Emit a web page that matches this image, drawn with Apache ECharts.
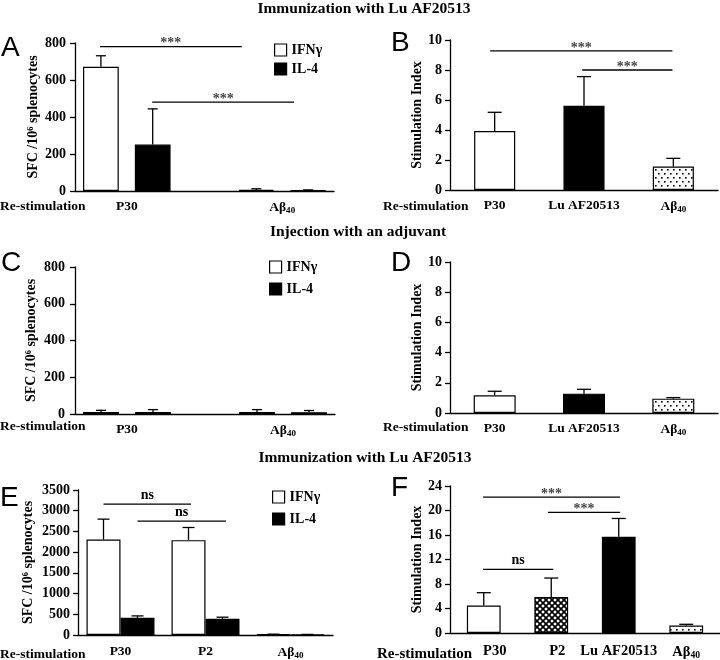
<!DOCTYPE html>
<html><head><meta charset="utf-8">
<script src="https://cdn.jsdelivr.net/npm/echarts@6/dist/echarts.min.js"></script>
<style>html,body{margin:0;padding:0;background:#fff}#c{width:720px;height:660px}</style>
</head><body><div id="c"></div>
<script>
// ================= DATA =================
const sectionTitles = ['Immunization with Lu AF20513', 'Injection with an adjuvant', 'Immunization with Lu AF20513'];
const panelLetters = ['A', 'B', 'C', 'D', 'E', 'F'];
const cytokines = ['IFNγ', 'IL-4'];
const sfcName = 'SFC /10⁶ splenocytes';
const siName = 'Stimulation Index';
const restimName = 'Re-stimulation';

// Panel A (SFC / 10^6 splenocytes)
const A_groups = ['P30', 'Aβ40'];
const A_ifn = [672, 6];
const A_ifnErr = [59, 6];
const A_il4 = [251, 3];
const A_il4Err = [193, 3];
const A_sig = [[0.48, 3.22, 780, '***'], [1.49, 4.23, 480, '***']];

// Panel B (Stimulation Index)
const B_cats = ['P30', 'Lu AF20513', 'Aβ40'];
const B_vals = [3.93, 5.62, 1.56];
const B_err = [1.25, 1.94, 0.55];
const B_sig = [[0.45, 2.49, 9.27, '***'], [1.48, 2.49, 8.0, '***']];

// Panel C
const C_groups = ['P30', 'Aβ40'];
const C_ifn = [11, 11];
const C_ifnErr = [9, 13];
const C_il4 = [11, 10];
const C_il4Err = [13, 9];

// Panel D
const D_cats = ['P30', 'Lu AF20513', 'Aβ40'];
const D_vals = [1.17, 1.28, 0.95];
const D_err = [0.27, 0.29, 0.07];

// Panel E
const E_cats = ['P30', 'P2', 'Aβ40'];
const E_ifn = [2305, 2290, 15];
const E_ifnErr = [492, 305, 5];
const E_il4 = [414, 391, 10];
const E_il4Err = [47, 39, 4];
const E_sig = [[0.30, 1.33, 3158, 'ns'], [0.70, 1.74, 2750, 'ns']];

// Panel F
const F_cats = ['P30', 'P2', 'Lu AF20513', 'Aβ40'];
const F_vals = [4.49, 5.87, 15.7, 1.22];
const F_err = [2.09, 3.1, 3.0, 0.2];
const F_sig = [[0.49, 1.53, 10.4, 'ns'], [0.49, 2.52, 22.2, '***'], [1.45, 2.52, 19.7, '***']];

// y scales
const sfcScale = { min: 0, max: 800, interval: 200 };
const siScale = { min: 0, max: 10, interval: 2 };
const sfcScaleE = { min: 0, max: 3500, interval: 500 };
const siScaleF = { min: 0, max: 24, interval: 4 };

// ================= STYLE =================
const SERIF = '"Liberation Serif", "Times New Roman", serif';
const SANS = '"Liberation Sans", Arial, sans-serif';
const B_fill = ['white', 'black', 'dots'];
const D_fill = ['white', 'black', 'dots'];
const F_fill = ['white', 'cross', 'black', 'dots'];

function makePattern(kind) {
  const c = document.createElement('canvas');
  const g = c.getContext('2d');
  if (kind === 'dots') {
    c.width = 6; c.height = 8;
    g.fillStyle = '#fff'; g.fillRect(0, 0, 6, 8);
    g.fillStyle = '#000';
    g.fillRect(1, 1, 1.6, 1.6);
    g.fillRect(4, 5, 1.6, 1.6);
  } else {
    c.width = 6; c.height = 6;
    g.fillStyle = '#fff'; g.fillRect(0, 0, 6, 6);
    g.strokeStyle = '#000'; g.lineWidth = 1.7;
    g.beginPath();
    g.moveTo(-1, -1); g.lineTo(7, 7);
    g.moveTo(7, -1); g.lineTo(-1, 7);
    g.stroke();
  }
  return { image: c, repeat: 'repeat' };
}
const fills = { white: '#ffffff', black: '#000000', dots: makePattern('dots'), cross: makePattern('cross') };

const grids = [
  { left: 75, top: 43, width: 259, height: 148 },   // A
  { left: 450, top: 40, width: 268, height: 150 },  // B
  { left: 75, top: 267, width: 260, height: 147 },  // C
  { left: 450, top: 262, width: 268, height: 151 }, // D
  { left: 78, top: 490, width: 255, height: 149 },  // E
  { left: 450, top: 486, width: 270, height: 151 }  // F
];
const nameGaps = [35, 22, 37, 24, 43, 24];
const labelMargins = [9, 8, 10, 8, 8, 8];
const catMargins = [9, 9, 9, 9, 10, 11];

const axisLineStyle = { color: '#000', width: 1.3 };
const tickFont = { fontFamily: SERIF, fontWeight: 'bold', fontSize: 14, color: '#000' };
function richSet(size, shifts) {
  const r = {
    a: { fontFamily: SERIF, fontWeight: 'bold', fontSize: size, color: '#000' },
    s: { fontFamily: SERIF, fontWeight: 'bold', fontSize: size * 0.67, color: '#000', verticalAlign: 'bottom', padding: [6, 0, 0, 0] }
  };
  (shifts || []).forEach((s, i) => {
    r['k' + i] = { fontFamily: SERIF, fontWeight: 'bold', fontSize: size, color: '#000', padding: [0, 0, 0, s] };
  });
  return r;
}
const catRich = richSet(13.5);
// F's first two labels sit a little right of their bars
const F_labelShift = [22, 12, 0, 0];
const catRichF = richSet(14.5, F_labelShift);
function fmtCat(v) {
  if (!v) return '';
  if (v === 'Aβ40') return '{a|Aβ}{s|40}';
  return '{a|' + v + '}';
}
function fmtCatF(v, idx) {
  if (v === 'Aβ40') return '{a|Aβ}{s|40}';
  if (F_labelShift[idx]) return '{k' + idx + '|' + v + '}';
  return '{a|' + v + '}';
}

const xAxes = [], yAxes = [], series = [];

function yAxisFor(gi, scale, name) {
  yAxes.push({
    type: 'value', gridIndex: gi, min: scale.min, max: scale.max, interval: scale.interval,
    name: name, nameLocation: 'middle', nameGap: nameGaps[gi],
    nameTextStyle: { fontFamily: SERIF, fontWeight: 'bold', fontSize: 14, color: '#000' },
    axisLine: { show: true, lineStyle: axisLineStyle },
    axisTick: { show: true, length: 5, lineStyle: axisLineStyle },
    axisLabel: Object.assign({ margin: labelMargins[gi], formatter: v => String(v) }, tickFont),
    splitLine: { show: false }
  });
}

// error bar series
function errSeries(xi, yi, items, cap) {
  return {
    type: 'custom', xAxisIndex: xi, yAxisIndex: yi, z: 5, silent: true,
    encode: { x: 0, y: 1 },
    data: items,
    renderItem: function (params, api) {
      const i = api.value(0), v = api.value(1), e = api.value(2), off = api.value(3);
      const band = api.size([1, 0])[0];
      const p0 = api.coord([i, v]);
      const p1 = api.coord([i, v + e]);
      const x = p0[0] + off * band;
      const st = { stroke: '#000', lineWidth: 1.3 };
      return {
        type: 'group', children: [
          { type: 'line', shape: { x1: x, y1: p0[1], x2: x, y2: p1[1] }, style: st },
          { type: 'line', shape: { x1: x - cap, y1: p1[1], x2: x + cap, y2: p1[1] }, style: st }
        ]
      };
    }
  };
}

// significance bars
function sigSeries(xi, yi, sig, fontSize) {
  return {
    type: 'custom', xAxisIndex: xi, yAxisIndex: yi, z: 6, silent: true,
    encode: { x: [0, 1], y: 2 },
    data: sig.map(d => [d[0], d[1], d[2]]),
    renderItem: function (params, api) {
      const d = sig[params.dataIndex];
      const p1 = api.coord([d[0], d[2]]);
      const p2 = api.coord([d[1], d[2]]);
      const isNs = d[3] === 'ns';
      return {
        type: 'group', children: [
          { type: 'line', shape: { x1: p1[0], y1: p1[1], x2: p2[0], y2: p1[1] }, style: { stroke: '#000', lineWidth: 1.3 } },
          { type: 'text', x: (p1[0] + p2[0]) / 2, y: isNs ? p1[1] - 2 : p1[1] - 3,
            style: { text: d[3], fill: isNs ? '#000' : '#444', font: 'bold ' + fontSize + 'px ' + SERIF,
              align: 'center', verticalAlign: isNs ? 'bottom' : 'middle' } }
        ]
      };
    }
  };
}

// ---- grouped SFC panels (A, C): 5 slots: IFN, IL4, gap, IFN, IL4 ----
function sfcPanel(gi, groups, ifn, ifnErr, il4, il4Err, sig) {
  const nSlots = groups.length * 3 - 1;
  const slots = [];
  for (let i = 0; i < nSlots; i++) slots.push('s' + i);
  const xc = xAxes.length;
  xAxes.push({
    type: 'category', gridIndex: gi, data: slots,
    axisLine: { show: true, lineStyle: axisLineStyle }, axisTick: { show: false }, axisLabel: { show: false }
  });
  const labelMap = {};
  groups.forEach((g, k) => { labelMap[3 * k + 1] = g; });
  xAxes.push({
    type: 'value', gridIndex: gi, min: 0, max: nSlots, interval: 1, position: 'bottom',
    axisLine: { show: false }, axisTick: { show: false }, splitLine: { show: false },
    axisLabel: { show: true, margin: catMargins[gi], formatter: v => fmtCat(labelMap[v]), rich: catRich, showMinLabel: true, showMaxLabel: true }
  });
  yAxisFor(gi, sfcScale, sfcName);
  const yi = yAxes.length - 1;
  const ifnData = slots.map(() => '-'), il4Data = slots.map(() => '-');
  const errItems = [];
  groups.forEach((g, k) => {
    ifnData[3 * k] = ifn[k]; il4Data[3 * k + 1] = il4[k];
    errItems.push([3 * k, ifn[k], ifnErr[k], 0]);
    errItems.push([3 * k + 1, il4[k], il4Err[k], 0]);
  });
  series.push({ type: 'bar', name: cytokines[0], xAxisIndex: xc, yAxisIndex: yi, data: ifnData, barWidth: '69%', barGap: '-100%',
    itemStyle: { color: '#fff', borderColor: '#000', borderWidth: 1.2 }, silent: true });
  series.push({ type: 'bar', name: cytokines[1], xAxisIndex: xc, yAxisIndex: yi, data: il4Data, barWidth: '69%', barGap: '-100%',
    itemStyle: { color: '#000', borderColor: '#000', borderWidth: 1.2 }, silent: true });
  series.push(errSeries(xc, yi, errItems, 5));
  if (sig) series.push(sigSeries(xc + 1, yi, sig, 14));
}

// ---- single-series SI panels (B, D, F) ----
function siPanel(gi, cats, vals, errs, fillKeys, scale, sig, barWidth, rich, fmt, capHalf) {
  const xc = xAxes.length;
  xAxes.push({
    type: 'category', gridIndex: gi, data: cats,
    axisLine: { show: true, lineStyle: axisLineStyle }, axisTick: { show: false },
    axisLabel: { show: true, interval: 0, margin: catMargins[gi], formatter: fmt, rich: rich }
  });
  xAxes.push({ type: 'value', gridIndex: gi, min: 0, max: cats.length, show: false });
  yAxisFor(gi, scale, siName);
  const yi = yAxes.length - 1;
  series.push({
    type: 'bar', name: 'SI' + gi, xAxisIndex: xc, yAxisIndex: yi, barWidth: barWidth, silent: true,
    data: vals.map((v, i) => ({ value: v, itemStyle: { color: fills[fillKeys[i]], borderColor: '#000', borderWidth: 1.2 } }))
  });
  series.push(errSeries(xc, yi, vals.map((v, i) => [i, v, errs[i], 0]), capHalf));
  if (sig) series.push(sigSeries(xc + 1, yi, sig, 14));
}

// ---- grouped E panel ----
function ePanel(gi) {
  const xc = xAxes.length;
  xAxes.push({
    type: 'category', gridIndex: gi, data: E_cats,
    axisLine: { show: true, lineStyle: axisLineStyle }, axisTick: { show: false },
    axisLabel: { show: true, interval: 0, margin: catMargins[gi], formatter: fmtCat, rich: catRich }
  });
  xAxes.push({ type: 'value', gridIndex: gi, min: 0, max: E_cats.length, show: false });
  yAxisFor(gi, sfcScaleE, sfcName);
  const yi = yAxes.length - 1;
  series.push({ type: 'bar', name: cytokines[0], xAxisIndex: xc, yAxisIndex: yi, data: E_ifn, barWidth: '40%', barGap: '0%',
    itemStyle: { color: '#fff', borderColor: '#000', borderWidth: 1.2 }, silent: true });
  series.push({ type: 'bar', name: cytokines[1], xAxisIndex: xc, yAxisIndex: yi, data: E_il4, barWidth: '40%', barGap: '0%',
    itemStyle: { color: '#000', borderColor: '#000', borderWidth: 1.2 }, silent: true });
  const items = [];
  E_cats.forEach((c, i) => {
    items.push([i, E_ifn[i], E_ifnErr[i], -0.2]);
    items.push([i, E_il4[i], E_il4Err[i], 0.2]);
  });
  series.push(errSeries(xc, yi, items, 6));
  series.push(sigSeries(xc + 1, yi, E_sig, 14));
}

sfcPanel(0, A_groups, A_ifn, A_ifnErr, A_il4, A_il4Err, A_sig);
siPanel(1, B_cats, B_vals, B_err, B_fill, siScale, B_sig, '46%', catRich, fmtCat, 7);
sfcPanel(2, C_groups, C_ifn, C_ifnErr, C_il4, C_il4Err, null);
siPanel(3, D_cats, D_vals, D_err, D_fill, siScale, null, '47%', catRich, fmtCat, 7);
ePanel(4);
siPanel(5, F_cats, F_vals, F_err, F_fill, siScaleF, F_sig, '50%', catRichF, fmtCatF, 7);

// ---- legends ----
function legendAt(left, top, gap) {
  return {
    data: cytokines, orient: 'vertical', left: left, top: top, padding: 0, itemGap: gap,
    icon: 'rect', itemWidth: 12, itemHeight: 12, selectedMode: false,
    itemStyle: { borderColor: '#000', borderWidth: 1.2 },
    textStyle: { fontFamily: SERIF, fontWeight: 'bold', fontSize: 14, color: '#000' }
  };
}
const legends = [legendAt(274, 43, 5), legendAt(269, 260, 8), legendAt(272, 490, 8)];

// ---- texts ----
const graphics = [];
function txt(x, y, text, font, align) {
  graphics.push({ type: 'text', x: x, y: y, silent: true,
    style: { text: text, font: font, fill: '#000', align: align || 'left', verticalAlign: 'middle' } });
}
txt(364, 9, sectionTitles[0], 'bold 15.5px ' + SERIF, 'center');
txt(358, 232, sectionTitles[1], 'bold 15.5px ' + SERIF, 'center');
txt(365, 458, sectionTitles[2], 'bold 15.5px ' + SERIF, 'center');
const letterPos = [[1, 48], [391, 43], [1, 263], [391, 263], [0, 498], [391, 488]];
panelLetters.forEach((l, i) => txt(letterPos[i][0], letterPos[i][1], l, '28px ' + SANS));
const restimPos = [[0, 207, 13.5], [383, 207, 13.5], [0, 427, 13.5], [383, 428, 13.5], [0, 655, 13.5], [377, 654, 15]];
restimPos.forEach(p => txt(p[0], p[1], restimName, 'bold ' + p[2] + 'px ' + SERIF));

const chart = echarts.init(document.getElementById('c'), null, { renderer: 'canvas' });
chart.setOption({
  animation: false,
  backgroundColor: '#fff',
  grid: grids,
  xAxis: xAxes,
  yAxis: yAxes,
  legend: legends,
  series: series,
  graphic: graphics
});
</script>
</body></html>
